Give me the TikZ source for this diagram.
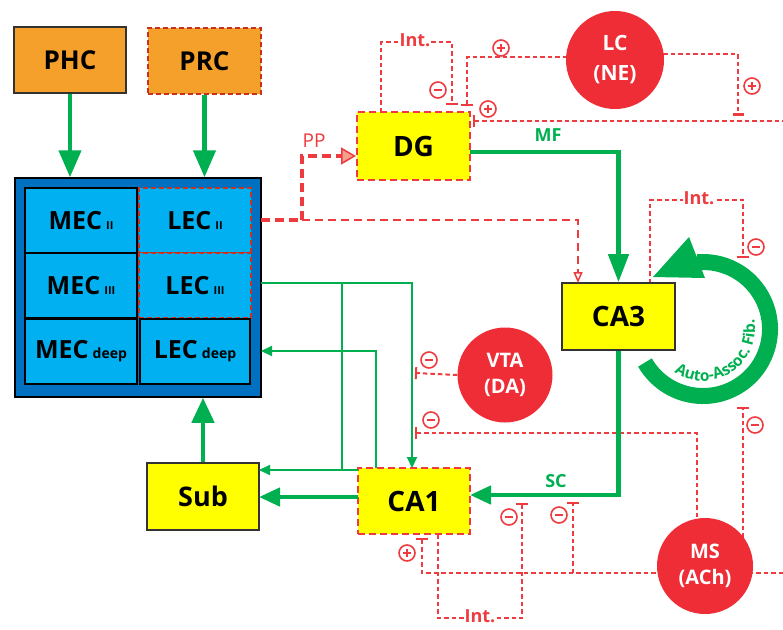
\documentclass[tikz,border=0pt]{standalone}
\usepackage{fontspec}
\setmainfont{Open Sans}
\usetikzlibrary{arrows.meta,decorations.text,calc}
\definecolor{gr}{HTML}{00B050}
\definecolor{rd}{HTML}{EE3B3F}
\definecolor{rdc}{HTML}{EE2D36}
\definecolor{dkr}{HTML}{C8321E}
\definecolor{org}{HTML}{F4A02A}
\definecolor{ecd}{HTML}{0070C0}
\definecolor{ecl}{HTML}{00B0F0}
\definecolor{yel}{HTML}{FFFF00}
\definecolor{salm}{HTML}{F4A08A}
\newcommand\ecsub[1]{{\fontsize{11}{11}\selectfont #1}}
\newcommand\ecdeep[1]{{\fontsize{14}{14}\selectfont #1}}
\begin{document}
\begin{tikzpicture}[x=1pt, y=-1pt,
  box/.style={draw=black!80, line width=1.6pt, inner sep=0pt, minimum width=112pt, minimum height=66pt, font=\bfseries\fontsize{28}{28}\selectfont},
  rbox/.style={box, draw=rd, dash pattern=on 7pt off 4pt, line width=2.2pt},
  cell/.style={draw=black, line width=1.5pt, fill=ecl, inner sep=0pt, minimum width=112pt, minimum height=65pt, font=\bfseries\fontsize{25}{25}\selectfont},
  lcell/.style={cell, draw=dkr, dash pattern=on 5pt off 3pt, line width=2.2pt},
  gthick/.style={draw=gr, line width=4.5pt, -{Triangle[length=27pt,width=22pt]}},
  gmid/.style={draw=gr, line width=4.5pt, -{Triangle[length=21pt,width=18pt]}},
  gthin/.style={draw=gr, line width=2pt, -{Triangle[length=11pt,width=10pt]}},
  rdl/.style={draw=rd, line width=2pt, dash pattern=on 4.5pt off 3pt},
  bar/.style={-{Bar[width=12pt,line width=2pt]}},
  sbar/.style={{Bar[width=12pt,line width=2pt]}-},
  circ/.style={circle, fill=rdc, text=white, inner sep=0pt, align=center, font=\bfseries\fontsize{20}{26}\selectfont},
  lbl/.style={inner sep=1pt, font=\bfseries\fontsize{18}{18}\selectfont},
  intl/.style={lbl, text=rd, fill=white},
  sg/.style={circle, draw=rd, line width=1.6pt, minimum size=16pt, inner sep=0pt, fill=white},
  minussg/.style={sg, path picture={\draw[rd, line width=2.4pt] ($(path picture bounding box.center)+(-4.2,0)$) -- ($(path picture bounding box.center)+(4.2,0)$);}},
  plussg/.style={sg, path picture={\draw[rd, line width=2.2pt] ($(path picture bounding box.center)+(-4.2,0)$) -- ($(path picture bounding box.center)+(4.2,0)$) ($(path picture bounding box.center)+(0,-4.2)$) -- ($(path picture bounding box.center)+(0,4.2)$);}}
]
\path[use as bounding box, fill=white] (0,0) rectangle (783,629);

% ---------- red modulatory lines (drawn first) ----------
% DG interneuron loop
\coordinate (dgi1) at (381,112);
\coordinate (dgi2) at (452,105);
\draw[rdl, bar] (dgi1) -- (381,42) -- (452,42) -- (dgi2);
\node[intl] (int1) at (415,40) {Int.};
% LC lines
\coordinate (lcw) at (567,57);
\coordinate (lce) at (663,54);
\coordinate (lcb1) at (467,106);
\coordinate (lcb2) at (738,116);
\draw[rdl, bar] (lcw) -- (467,57) -- (lcb1);
\draw[rdl, -{Bar[width=11pt,line width=2.8pt]}] (lce) -- (738,54) -- (lcb2);
\coordinate (l121a) at (473,121);
\coordinate (l121b) at (783,121);
\draw[rdl, sbar] (l121a) -- (l121b);
% CA3 interneuron loop
\coordinate (ca3i1) at (650,283);
\coordinate (ca3i2) at (743,258);
\draw[rdl, bar] (ca3i1) -- (650,200) -- (743,200) -- (ca3i2);
\node[intl] (int2) at (699,198) {Int.};
% VTA
\coordinate (vtab) at (415,373);
\coordinate (l433) at (415,433);
\coordinate (mstop) at (697,530);
\draw[rdl, sbar] (l433) -- (697,433) -- (mstop);
% MS lines
\coordinate (msr) at (743,545);
\coordinate (msb) at (743,407);
\draw[rdl, bar] (msr) -- (msb);
\coordinate (ca1b1) at (422,538);
\coordinate (l573) at (783,573);
\draw[rdl, sbar] (ca1b1) -- (422,573) -- (l573);
\coordinate (scb1) at (573,573);
\coordinate (scb2) at (573,502);
\draw[rdl, bar] (scb1) -- (scb2);
% CA1 interneuron loop
\coordinate (ca1i1) at (438,534);
\coordinate (ca1i2) at (522,503);
\draw[rdl, bar] (ca1i1) -- (438,618) -- (522,618) -- (ca1i2);
\node[intl] (int3) at (480,616) {Int.};

% ---------- boxes ----------
\node[box, fill=org, font=\bfseries\fontsize{26}{26}\selectfont] (PHC) at (70,60) {PHC};
\node[box, fill=org, draw=dkr, dash pattern=on 5pt off 3pt, line width=2.4pt, minimum width=113pt, font=\bfseries\fontsize{26}{26}\selectfont] (PRC) at (204.5,61) {PRC};
\node[draw=black, line width=1.5pt, fill=ecd, minimum width=246pt, minimum height=219pt, inner sep=0pt] (EC) at (138,287.5) {};
\node[cell] (MEC2) at (81,220.5) {MEC\,\ecsub{II}};
\node[cell] (MEC3) at (81,285.5) {MEC\,\ecsub{III}};
\node[cell] (MECd) at (81,351.5) {MEC\,\ecdeep{deep}};
\node[lcell] (LEC2) at (195,220.5) {LEC\,\ecsub{II}};
\node[lcell] (LEC3) at (195,285.5) {LEC\,\ecsub{III}};
\node[cell, minimum width=110pt] (LECd) at (195,351.5) {LEC\,\ecdeep{deep}};

\node[rbox, fill=yel, minimum width=113pt, minimum height=68pt] (DG) at (413.5,146) {DG};
\node[box, fill=yel, minimum width=113pt, minimum height=67pt] (CA3) at (618.5,316.5) {CA3};
\node[rbox, fill=yel] (CA1) at (414,501) {CA1};
\node[box, fill=yel, minimum height=67pt, font=\bfseries\fontsize{27}{27}\selectfont] (Sub) at (203,496.5) {Sub};

% ---------- circles ----------
\node[circ, minimum size=98pt, font=\bfseries\fontsize{21}{30}\selectfont] (LC) at (615,60) {LC\\(NE)};
\node[circ, minimum size=95pt] (VTA) at (505,375) {VTA\\(DA)};
\node[circ, minimum size=96pt] (MS) at (705,566) {MS\\(ACh)};
\draw[rdl, bar] (VTA.west) -- (vtab);

% ---------- green pathways ----------
\draw[gthick] (PHC.south) -- (PHC.south |- EC.north);
\draw[gthick] (PRC.south) -- (PRC.south |- EC.north);
\draw[gthick, -{Triangle[length=25pt,width=22pt]}] (Sub.north) -- (Sub.north |- EC.south);
\coordinate (mfs) at (470,152);
\draw[gthick, -{Triangle[length=28pt,width=20pt]}] (mfs) -| (CA3.north);
\node[lbl, text=gr] (MF) at (548,135) {MF};
\coordinate (scin) at (470,495);
\draw[gmid] (CA3.south) |- (scin);
\node[lbl, text=gr] (SC) at (556,481) {SC};
\coordinate (ca1w) at (358,497);
\coordinate (subw) at (259,497);
\draw[gmid] (ca1w) -- (subw);

\coordinate (ec3) at (261,283);
\draw[gthin] (ec3) -| (412,468);
\coordinate (br1) at (342,283);
\coordinate (br2) at (342,470);
\draw[draw=gr, line width=2pt] (br1) -- (br2);
\coordinate (ca1nw) at (358,470);
\coordinate (subne) at (259,470);
\draw[gthin] (ca1nw) -- (subne);
\coordinate (ca1n2) at (376,468);
\coordinate (ecd1) at (261,351);
\draw[gthin] (ca1n2) |- (ecd1);

% auto-associative fibres
\coordinate (aac) at (703,329);
\draw[gr, line width=16pt] (aac) ++(150:67) arc[start angle=150, end angle=-95, radius=67];
\fill[gr] (653,277) -- (689,237) -- (705,278) -- cycle;
\path[decorate, decoration={text along path, text align=center, text color=gr,
  text={|\bfseries\fontsize{15.5}{15.5}\selectfont|Auto-Assoc. Fib.}}]
  (aac) ++(127:52) arc[start angle=127, end angle=-14, radius=52];

% ---------- perforant path ----------
\coordinate (pp0) at (261,220);
\coordinate (ppj) at (302,220);
\coordinate (ppd) at (356,156);
\draw[draw=rd, line width=3.2pt, dash pattern=on 9pt off 5pt] (pp0) -- (ppj);
\draw[draw=rd, line width=3.2pt, dash pattern=on 9pt off 5pt, -{Triangle[length=15pt,width=17pt,fill=salm,line width=1.5pt]}] (ppj) |- (ppd);
\node[lbl, text=rd, font=\fontsize{19}{19}\selectfont] (PP) at (314,141) {PP};
\coordinate (ca3n2) at (578,283);
\draw[draw=rd, line width=2.4pt, dash pattern=on 8pt off 5pt, -{Triangle[open,length=11pt,width=9pt,line width=1.5pt]}] (ppj) -| (ca3n2);

% ---------- signs ----------
\node[minussg] (n1) at (438,90) {};
\node[plussg] (p1) at (501,48) {};
\node[plussg] (p2) at (488,109) {};
\node[plussg] (p3) at (752,86) {};
\node[minussg] (n2) at (756,247) {};
\node[minussg] (n3) at (755,425) {};
\node[minussg] (n4) at (429,360) {};
\node[minussg] (n5) at (431,420) {};
\node[minussg] (n6) at (509,517) {};
\node[minussg] (n7) at (559,515) {};
\node[plussg] (p4) at (407,553) {};
\end{tikzpicture}
\end{document}
